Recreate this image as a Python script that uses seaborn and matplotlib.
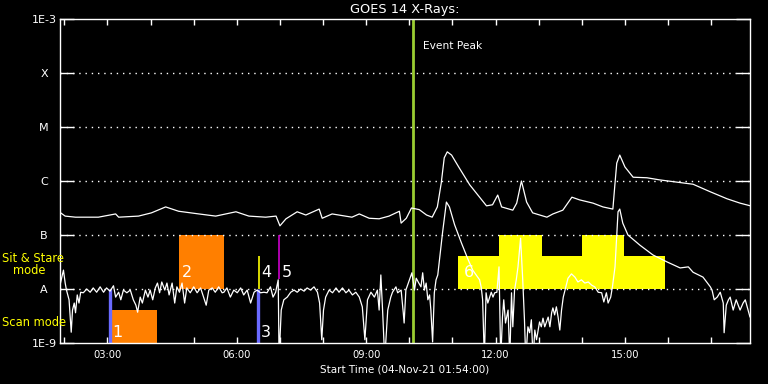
import numpy as np
import pandas as pd
import matplotlib.pyplot as plt
import seaborn as sns
from matplotlib.ticker import NullLocator, FixedLocator

# GOES 14 long channel (hour of day, log10 flux W/m^2)
long_hours = [1.88, 2.02, 2.26, 2.79, 3.19, 3.26, 3.72, 4.02, 4.35, 4.65, 5.12, 5.51,
              5.98, 6.28, 6.67, 6.91, 7.00, 7.14, 7.40, 7.60, 7.91, 7.98, 8.21, 8.67,
              8.84, 9.07, 9.30, 9.53, 9.77, 9.81, 9.93, 10.05, 10.23, 10.40, 10.53, 10.65,
              10.74, 10.81, 10.88, 10.98, 11.16, 11.40, 11.63, 11.79, 11.93, 12.05, 12.14, 12.40,
              12.49, 12.60, 12.72, 12.86, 13.19, 13.33, 13.56, 13.77, 13.95, 14.26, 14.49, 14.72,
              14.77, 14.81, 14.88, 15.00, 15.19, 15.51, 15.81, 16.58, 16.98, 17.37, 17.67, 17.91]
long_logflux = [-6.57, -6.65, -6.67, -6.67, -6.61, -6.67, -6.65, -6.59, -6.48, -6.56, -6.61, -6.65,
                -6.57, -6.65, -6.67, -6.65, -6.83, -6.70, -6.57, -6.63, -6.52, -6.69, -6.61, -6.67,
                -6.61, -6.69, -6.70, -6.65, -6.56, -6.78, -6.69, -6.50, -6.53, -6.63, -6.67, -6.48,
                -6.04, -5.57, -5.46, -5.52, -5.76, -6.07, -6.30, -6.46, -6.44, -6.26, -6.48, -6.54,
                -6.41, -6.00, -6.39, -6.59, -6.67, -6.61, -6.54, -6.30, -6.35, -6.41, -6.48, -6.52,
                -6.04, -5.67, -5.52, -5.74, -5.93, -5.94, -5.98, -6.06, -6.20, -6.33, -6.41, -6.46]

# GOES 14 short channel
short_hours = [1.90, 1.98, 2.02, 2.05, 2.11, 2.16, 2.19, 2.23, 2.26, 2.30,
               2.34, 2.38, 2.44, 2.52, 2.60, 2.67, 2.75, 2.83, 2.91, 2.98,
               3.06, 3.14, 3.19, 3.26, 3.31, 3.37, 3.45, 3.53, 3.60, 3.66,
               3.70, 3.76, 3.81, 3.88, 3.94, 3.99, 4.05, 4.11, 4.16, 4.21,
               4.26, 4.33, 4.38, 4.43, 4.50, 4.56, 4.61, 4.67, 4.73, 4.79,
               4.84, 4.92, 5.00, 5.08, 5.16, 5.23, 5.29, 5.35, 5.43, 5.50,
               5.58, 5.66, 5.70, 5.77, 5.85, 5.93, 6.01, 6.09, 6.16, 6.24,
               6.32, 6.40, 6.47, 6.55, 6.63, 6.70, 6.78, 6.84, 6.90, 6.96,
               6.98, 7.03, 7.09, 7.17, 7.25, 7.33, 7.40, 7.48, 7.56, 7.63,
               7.71, 7.79, 7.87, 7.92, 7.97, 8.01, 8.06, 8.14, 8.22, 8.30,
               8.37, 8.45, 8.53, 8.60, 8.68, 8.76, 8.84, 8.91, 8.97, 9.03,
               9.11, 9.19, 9.26, 9.30, 9.34, 9.38, 9.43, 9.50, 9.57, 9.61,
               9.69, 9.73, 9.81, 9.86, 9.88, 9.92, 9.96, 10.02, 10.06, 10.12,
               10.16, 10.22, 10.27, 10.31, 10.35, 10.39, 10.43, 10.47, 10.50, 10.54,
               10.58, 10.62, 10.66, 10.70, 10.77, 10.86, 10.93, 11.05, 11.21, 11.35,
               11.47, 11.63, 11.67, 11.70, 11.74, 11.78, 11.82, 11.90, 11.94, 11.98,
               12.03, 12.08, 12.12, 12.16, 12.19, 12.23, 12.29, 12.33, 12.37, 12.40,
               12.44, 12.48, 12.52, 12.58, 12.63, 12.67, 12.70, 12.75, 12.79, 12.83,
               12.87, 12.91, 12.95, 13.02, 13.06, 13.10, 13.14, 13.22, 13.26, 13.30,
               13.33, 13.37, 13.41, 13.45, 13.49, 13.53, 13.57, 13.63, 13.68, 13.76,
               13.84, 13.91, 13.99, 14.07, 14.15, 14.23, 14.30, 14.38, 14.46, 14.51,
               14.57, 14.61, 14.67, 14.71, 14.77, 14.84, 14.88, 14.95, 15.07, 15.35,
               15.65, 15.98, 16.28, 16.47, 16.58, 16.81, 16.98, 17.02, 17.07, 17.14,
               17.21, 17.28, 17.30, 17.35, 17.40, 17.44, 17.51, 17.58, 17.67, 17.74,
               17.79, 17.90]
short_logflux = [-7.93, -7.65, -7.89, -8.02, -8.20, -8.80, -8.39, -8.26, -8.44, -8.11,
                 -8.26, -8.06, -8.07, -8.00, -8.06, -7.98, -8.06, -7.96, -8.06, -7.98,
                 -8.04, -7.94, -8.15, -8.06, -8.20, -8.02, -8.07, -8.02, -8.20, -8.30,
                 -8.43, -8.15, -8.26, -8.02, -8.15, -8.02, -8.20, -7.98, -7.89, -8.07,
                 -7.87, -8.02, -7.89, -8.11, -7.89, -8.26, -7.96, -8.06, -7.89, -8.26,
                 -7.98, -8.07, -7.96, -8.07, -7.98, -8.15, -8.30, -8.02, -7.98, -8.06,
                 -7.96, -8.07, -8.06, -7.98, -8.15, -8.02, -8.07, -7.98, -8.11, -8.02,
                 -8.26, -8.06, -8.02, -8.07, -8.06, -8.07, -7.96, -8.15, -8.06, -7.83,
                 -9.30, -8.39, -8.20, -8.15, -8.06, -8.02, -8.06, -8.00, -8.04, -7.98,
                 -8.02, -7.96, -8.06, -8.26, -8.94, -8.39, -8.15, -8.02, -8.07, -7.98,
                 -8.06, -7.98, -8.07, -8.02, -8.11, -8.06, -8.15, -8.33, -8.94, -8.20,
                 -8.06, -8.15, -8.02, -8.39, -7.74, -8.39, -9.30, -8.39, -8.15, -8.06,
                 -7.96, -8.07, -8.02, -8.44, -8.63, -8.02, -7.93, -7.80, -7.70, -8.02,
                 -7.80, -7.89, -7.96, -7.70, -8.02, -7.89, -8.20, -8.11, -8.39, -8.98,
                 -8.07, -7.83, -7.74, -7.46, -6.96, -6.39, -6.48, -6.81, -7.15, -7.43,
                 -7.65, -7.83, -7.98, -8.20, -9.30, -8.07, -8.26, -8.06, -8.15, -8.07,
                 -8.06, -7.59, -9.30, -8.52, -8.20, -8.63, -8.39, -9.30, -8.07, -8.70,
                 -8.02, -7.83, -7.59, -7.06, -7.83, -8.57, -9.30, -8.70, -8.81, -8.57,
                 -9.30, -8.76, -8.94, -8.61, -8.70, -8.54, -8.70, -8.52, -8.70, -8.44,
                 -8.35, -8.48, -8.33, -8.52, -8.76, -8.39, -8.15, -7.96, -7.80, -7.72,
                 -7.78, -7.87, -7.83, -7.89, -7.87, -7.93, -7.96, -8.06, -8.07, -8.24,
                 -8.07, -8.26, -8.15, -7.96, -7.59, -6.57, -6.52, -6.78, -7.00, -7.19,
                 -7.37, -7.50, -7.61, -7.59, -7.69, -7.78, -7.96, -8.02, -8.20, -8.15,
                 -8.06, -8.26, -8.81, -8.30, -8.20, -8.15, -8.39, -8.20, -8.39, -8.26,
                 -8.20, -8.52]

ytick_values = [1e-9, 1e-8, 1e-7, 1e-6, 1e-5, 1e-4, 1e-3]
ytick_labels = ["1E-9", "A", "B", "C", "M", "X", "1E-3"]
xtick_hours = [3, 6, 9, 12, 15]
xtick_labels = ["03:00", "06:00", "09:00", "12:00", "15:00"]

# scan mode / sit & stare blocks
orange_start = [3.11, 4.67]
orange_end = [4.16, 5.70]
orange_low = [1e-9, 1e-8]
orange_high = [4.1e-9, 1e-7]
yellow_start = [11.14, 12.09, 14.00]
yellow_end = [15.93, 13.07, 14.98]
yellow_low = [1e-8, 4.1e-8, 4.1e-8]
yellow_high = [4.1e-8, 1e-7, 1e-7]

# short marker lines
marker_hours = [3.07, 6.49, 6.52, 6.98]
marker_low = [1e-9, 1e-9, 1e-8, 1.5e-8]
marker_high = [1e-8, 1e-8, 4.1e-8, 1e-7]
marker_colors = ["#6a6aff", "#6a6aff", "#ffff00", "#cc00cc"]

obs_labels = ["1", "2", "3", "4", "5", "6"]
obs_hours = [3.12, 4.72, 6.56, 6.56, 7.05, 11.26]
obs_flux = [1.55e-9, 2.05e-8, 1.55e-9, 2.05e-8, 2.05e-8, 2.05e-8]

peak_hour = 10.09

sns.set_theme(style="dark")
plt.rcParams["font.family"] = ["DejaVu Sans"]

fig = plt.figure(figsize=(7.68, 3.84), dpi=100, facecolor="black")
ax = fig.add_axes([60 / 768, 1 - 343 / 384, 690 / 768, 324 / 384])
ax.set_facecolor("black")

# blocks
ax.bar(orange_start, np.subtract(orange_high, orange_low), width=np.subtract(orange_end, orange_start),
       bottom=orange_low, align="edge", color="#ff7f00", linewidth=0, zorder=1)
ax.bar(yellow_start, np.subtract(yellow_high, yellow_low), width=np.subtract(yellow_end, yellow_start),
       bottom=yellow_low, align="edge", color="#ffff00", linewidth=0, zorder=1)

# dotted level lines
ax.hlines(ytick_values[1:-1], 1.9, 17.9, colors="white", linestyles=(0, (1, 3.5)), linewidth=1, zorder=1.5)

df_long = pd.DataFrame({"hour": long_hours, "flux": 10 ** np.array(long_logflux)})
df_short = pd.DataFrame({"hour": short_hours, "flux": 10 ** np.array(short_logflux)})
sns.lineplot(data=df_long, x="hour", y="flux", estimator=None, sort=False, color="white", linewidth=0.9, ax=ax, zorder=3)
sns.lineplot(data=df_short, x="hour", y="flux", estimator=None, sort=False, color="white", linewidth=0.9, ax=ax, zorder=3)

for h, lo, hi, c in zip(marker_hours, marker_low, marker_high, marker_colors):
    lw = 2.4 if c == "#6a6aff" else 1.2
    ax.vlines(h, lo, hi, colors=c, linewidth=lw, zorder=2)

ax.axvline(peak_hour, color="#9acd32", linewidth=2, zorder=2.5)
ax.text(peak_hour + 0.22, 3.1e-4, "Event Peak", color="white", fontsize=7.7, va="center", ha="left")

for lab, h, f in zip(obs_labels, obs_hours, obs_flux):
    ax.text(h, f, lab, color="white", fontsize=11.5, va="center", ha="left", zorder=4)

ax.set_yscale("log")
ax.set_ylim(1e-9, 1e-3)
ax.set_xlim(1.9, 17.9)
ax.yaxis.set_minor_locator(NullLocator())
ax.set_yticks(ytick_values)
ax.set_yticklabels(ytick_labels)
for lbl in ax.get_yticklabels():
    lbl.set_horizontalalignment("center")
ax.set_xticks(xtick_hours)
ax.set_xticklabels(xtick_labels)
ax.xaxis.set_minor_locator(FixedLocator(list(range(2, 18))))

ax.tick_params(axis="y", which="major", direction="in", length=10, width=1, color="white",
               labelcolor="white", left=True, right=True, labelsize=8, pad=11.5)
ax.tick_params(axis="x", which="both", direction="in", length=4.5, width=1, color="white",
               labelcolor="white", bottom=True, top=True, labelsize=7.2, pad=5)
ax.grid(False)
for sp in ax.spines.values():
    sp.set_color("white")
    sp.set_linewidth(1)

ax.set_xlabel("Start Time (04-Nov-21 01:54:00)", color="white", fontsize=7.5, labelpad=3)
ax.set_ylabel("")
ax.set_title("GOES 14 X-Rays:", color="white", fontsize=9.3, pad=4)

fig.text(2 / 768, 1 - 259 / 384, "Sit & Stare", color="#ffff00", fontsize=8.3, va="center", ha="left")
fig.text(13 / 768, 1 - 271 / 384, "mode", color="#ffff00", fontsize=8.3, va="center", ha="left")
fig.text(2 / 768, 1 - 323 / 384, "Scan mode", color="#ffff00", fontsize=8.3, va="center", ha="left")

fig.savefig("out.png", dpi=100, facecolor="black")
